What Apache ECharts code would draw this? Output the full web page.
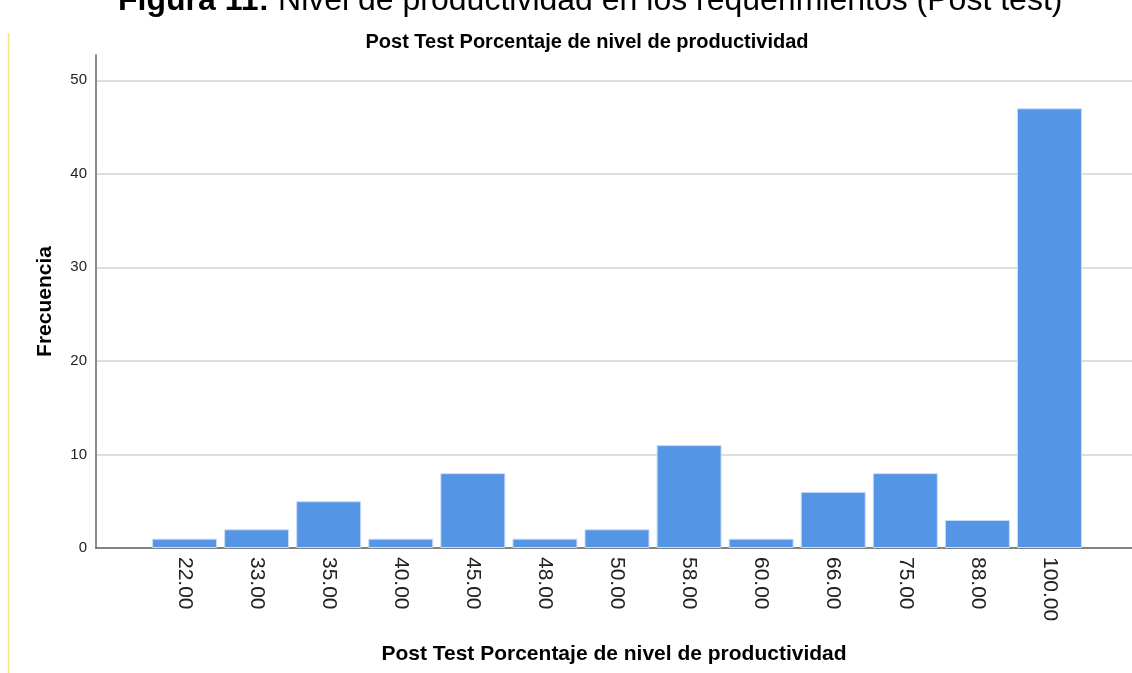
<!DOCTYPE html>
<html>
<head>
<meta charset="utf-8">
<script src="https://cdn.jsdelivr.net/npm/echarts@6/dist/echarts.min.js"></script>
<style>
  html, body { margin: 0; padding: 0; background: #fff; }
  #chart { width: 1132px; height: 673px; }
</style>
</head>
<body>
<div id="chart"></div>
<script>
// categorías del eje X (porcentaje de productividad)
const categorias = ["22.00", "33.00", "35.00", "40.00", "45.00", "48.00", "50.00",
  "58.00", "60.00", "66.00", "75.00", "88.00", "100.00"];
// frecuencia de cada categoría
const frecuencias = [1, 2, 5, 1, 8, 1, 2, 11, 1, 6, 8, 3, 47];
const yMax = 52.7;
const yInterval = 10;

const chart = echarts.init(document.getElementById("chart"));
const fuente = "'Liberation Sans', Arial, sans-serif";

const option = {
  animation: false,
  backgroundColor: "#fff",
  title: {
    text: "Post Test Porcentaje de nivel de productividad",
    left: 582,
    top: 27,
    textAlign: "center",
    textStyle: { fontFamily: fuente, fontSize: 20, fontWeight: "bold", color: "#000" }
  },
  graphic: [
    {
      // título del documento, cortado arriba
      type: "text",
      x: 118,
      y: -15,
      style: {
        text: "{b|Figura 11:} Nivel de productividad en los requerimientos (Post test)",
        font: "32px " + fuente,
        fill: "#000",
        verticalAlign: "top",
        rich: { b: { fontWeight: "bold", fontSize: 32, fontFamily: fuente } }
      }
    },
    {
      type: "line",
      shape: { x1: 8.5, y1: 33, x2: 8.5, y2: 673 },
      style: { stroke: "#fbe08a", lineWidth: 1.5 }
    }
  ],
  grid: [
    { left: 96, right: 0, top: 55, bottom: 125, outerBoundsMode: "none" },
    { left: 148.5, right: 46.5, top: 55, bottom: 125, outerBoundsMode: "none" }
  ],
  xAxis: [
    {
      gridIndex: 0,
      type: "value",
      min: 0,
      max: 1,
      axisLine: { show: true, lineStyle: { color: "#666", width: 1.5 } },
      axisTick: { show: false },
      axisLabel: { show: false },
      splitLine: { show: false },
      name: "Post Test Porcentaje de nivel de productividad",
      nameLocation: "middle",
      nameGap: 96,
      nameTextStyle: { fontFamily: fuente, fontSize: 21, fontWeight: "bold", color: "#000" }
    },
    {
      gridIndex: 1,
      type: "category",
      data: categorias,
      axisLine: { show: false },
      axisTick: { show: false },
      axisLabel: {
        rotate: -90,
        margin: 9,
        fontFamily: fuente,
        fontSize: 21,
        color: "#222"
      }
    }
  ],
  yAxis: [
    {
      gridIndex: 0,
      type: "value",
      min: 0,
      max: yMax,
      interval: yInterval,
      axisLine: { show: true, lineStyle: { color: "#8c8c8c", width: 2 } },
      axisTick: { show: false },
      axisLabel: {
        showMaxLabel: false,
        margin: 9,
        fontFamily: fuente,
        fontSize: 15,
        color: "#222"
      },
      splitLine: { show: true, showMaxLine: false, lineStyle: { color: "#d3d3d3", width: 1.5 } },
      name: "Frecuencia",
      nameLocation: "middle",
      nameGap: 40,
      nameTextStyle: { fontFamily: fuente, fontSize: 21, fontWeight: "bold", color: "#000" }
    },
    {
      gridIndex: 1,
      type: "value",
      min: 0,
      max: yMax,
      interval: yInterval,
      show: false
    }
  ],
  series: [
    {
      type: "bar",
      xAxisIndex: 1,
      yAxisIndex: 1,
      data: frecuencias,
      barWidth: 65,
      itemStyle: { color: "#5595e5", borderColor: "#c9ddf6", borderWidth: 1 }
    }
  ]
};

chart.setOption(option);
</script>
</body>
</html>
